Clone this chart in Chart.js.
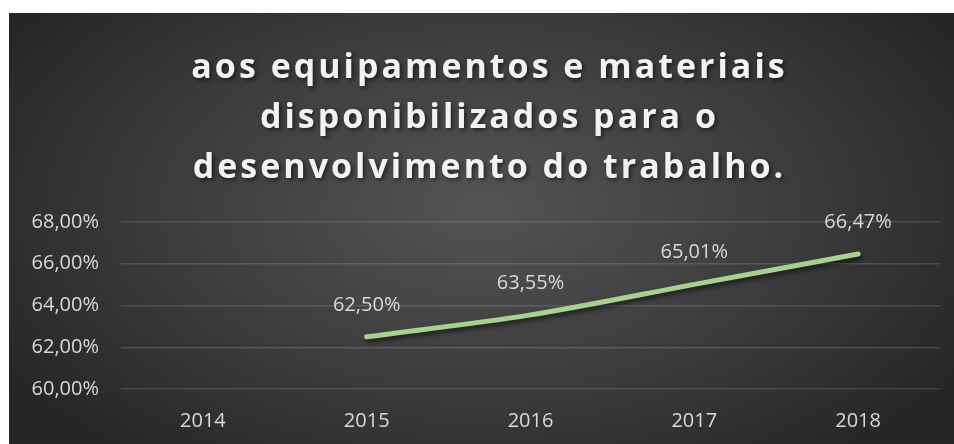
<!DOCTYPE html>
<html>
<head>
<meta charset="utf-8">
<script src="https://cdn.jsdelivr.net/npm/chart.js@4"></script>
<style>
  html, body { margin: 0; padding: 0; background: #ffffff; }
  #wrap {
    position: absolute; left: 9px; top: 13px; width: 945px; height: 431px;
    background: radial-gradient(ellipse 60% 75% at 50% 45%, #545454 0%, #3c3c3c 55%, #262626 100%);
  }
</style>
</head>
<body>
<div id="wrap"><canvas id="chart" width="945" height="431"></canvas></div>
<script>
var years = ['2014', '2015', '2016', '2017', '2018'];
var satisfacao = [null, 62.50, 63.55, 65.01, 66.47];
var titleLines = ['aos equipamentos e materiais', 'disponibilizados para o', 'desenvolvimento do trabalho.'];

function pct(v) {
  return v.toFixed(2).replace('.', ',') + '%';
}

// titulo em tres linhas, com espacamento entre letras e sombra
var tituloPlugin = {
  id: 'titulo',
  afterDraw: function(chart) {
    var ctx = chart.ctx;
    ctx.save();
    ctx.font = 'bold 34px "Open Sans"';
    ctx.letterSpacing = '3px';
    ctx.fillStyle = '#f2f2f2';
    ctx.textAlign = 'center';
    ctx.textBaseline = 'middle';
    ctx.shadowColor = 'rgba(0,0,0,0.55)';
    ctx.shadowBlur = 4;
    ctx.shadowOffsetX = 2;
    ctx.shadowOffsetY = 2;
    for (var i = 0; i < titleLines.length; i++) {
      ctx.fillText(titleLines[i], chart.width / 2 + 8, 55 + i * 50);
    }
    ctx.restore();
  }
};

// sombra da linha
var sombraPlugin = {
  id: 'sombra',
  beforeDatasetsDraw: function(chart) {
    var ctx = chart.ctx;
    ctx.save();
    ctx.shadowColor = 'rgba(0,0,0,0.6)';
    ctx.shadowBlur = 5;
    ctx.shadowOffsetX = 2;
    ctx.shadowOffsetY = 3;
  },
  afterDatasetsDraw: function(chart) {
    chart.ctx.restore();
  }
};

// rotulos de valor acima de cada ponto
var rotulosPlugin = {
  id: 'rotulos',
  afterDatasetsDraw: function(chart) {
    var ctx = chart.ctx;
    var meta = chart.getDatasetMeta(0);
    ctx.save();
    ctx.font = '20px "Open Sans"';
    ctx.fillStyle = '#d9d9d9';
    ctx.textAlign = 'center';
    ctx.textBaseline = 'middle';
    meta.data.forEach(function(pt, i) {
      var v = satisfacao[i];
      if (v === null) return;
      ctx.fillText(pct(v), pt.x, pt.y - 32);
    });
    ctx.restore();
  }
};

var ctx = document.getElementById('chart').getContext('2d');
var chart = new Chart(ctx, {
  type: 'line',
  data: {
    labels: years,
    datasets: [{
      data: satisfacao,
      borderColor: '#a9d18e',
      borderWidth: 5,
      borderCapStyle: 'round',
      borderJoinStyle: 'round',
      pointRadius: 0,
      pointHoverRadius: 0,
      tension: 0.3,
      fill: false
    }]
  },
  options: {
    responsive: false,
    animation: false,
    events: [],
    layout: { padding: { top: 209, right: 14, left: 0, bottom: 0 } },
    plugins: {
      legend: { display: false },
      title: { display: false },
      tooltip: { enabled: false }
    },
    scales: {
      x: {
        offset: true,
        grid: { display: false, drawTicks: false },
        border: { display: false },
        ticks: { color: '#d9d9d9', font: { family: 'Open Sans', size: 20 }, padding: 20 },
        afterFit: function(s) { s.height = 55; }
      },
      y: {
        min: 60,
        max: 68,
        grid: { color: 'rgba(217,217,217,0.16)', lineWidth: 1.5, drawTicks: false },
        border: { display: false },
        ticks: {
          stepSize: 2,
          color: '#d9d9d9',
          font: { family: 'Open Sans', size: 20 },
          padding: 22,
          callback: function(v) { return pct(v); }
        },
        afterFit: function(s) { s.width = 112; }
      }
    }
  },
  plugins: [sombraPlugin, rotulosPlugin, tituloPlugin]
});
</script>
</body>
</html>
